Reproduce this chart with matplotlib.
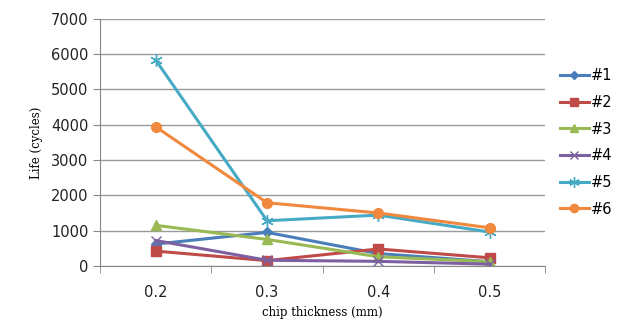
import matplotlib.pyplot as plt
import numpy as np

thickness = ["0.2", "0.3", "0.4", "0.5"]
life_1 = [620, 950, 350, 120]
life_2 = [420, 150, 480, 230]
life_3 = [1150, 750, 260, 120]
life_4 = [720, 160, 130, 50]
life_5 = [5830, 1280, 1440, 960]
life_6 = [3940, 1790, 1500, 1080]

series = [
    ("#1", life_1, "#4A7EBB", "D", 5),
    ("#2", life_2, "#BE4B48", "s", 7),
    ("#3", life_3, "#98B954", "^", 7),
    ("#4", life_4, "#7D60A0", "x", 7),
    ("#5", life_5, "#46AAC5", (6, 2, 0), 9),
    ("#6", life_6, "#F0883E", "o", 7),
]

fig = plt.figure(figsize=(6.26, 3.2), dpi=100)
ax = fig.add_axes([0.16, 0.169, 0.711, 0.772])

x = np.arange(len(thickness))
for name, vals, col, mk, ms in series:
    ax.plot(x, vals, color=col, lw=2.2, marker=mk, markersize=ms,
            markeredgecolor=col, markerfacecolor=col, markeredgewidth=1, label=name)

ax.set_xlim(-0.5, 3.5)
ax.set_ylim(0, 7000)
ax.set_yticks(range(0, 7001, 1000))
ax.set_xticks(x)
ax.set_xticklabels(thickness)
ax.set_xticks(np.arange(-0.5, 3.6, 1), minor=True)
ax.tick_params(axis="x", which="major", length=0, pad=14, labelsize=10.5, labelcolor="#222222")
ax.tick_params(axis="x", which="minor", length=5, color="#888888", direction="out")
ax.tick_params(axis="y", length=5, color="#888888", labelsize=10.5, labelcolor="#222222")
ax.grid(axis="y", color="#9a9a9a", lw=1)
ax.set_axisbelow(True)
for s in ["top", "right"]:
    ax.spines[s].set_visible(False)
ax.spines["left"].set_color("#888888")
ax.spines["bottom"].set_color("#888888")

ax.set_ylabel("Life (cycles)", family="DejaVu Serif", fontsize=8.5, labelpad=6)
ax.set_xlabel("chip thickness (mm)", family="DejaVu Serif", fontsize=8.5, labelpad=4)

ax.legend(loc="center left", bbox_to_anchor=(1.0, 0.5), frameon=False,
          fontsize=10.5, handlelength=2.0, labelspacing=0.8, handletextpad=0.15,
          borderaxespad=0.6, markerscale=0.85)

fig.savefig("out.png", dpi=100)
